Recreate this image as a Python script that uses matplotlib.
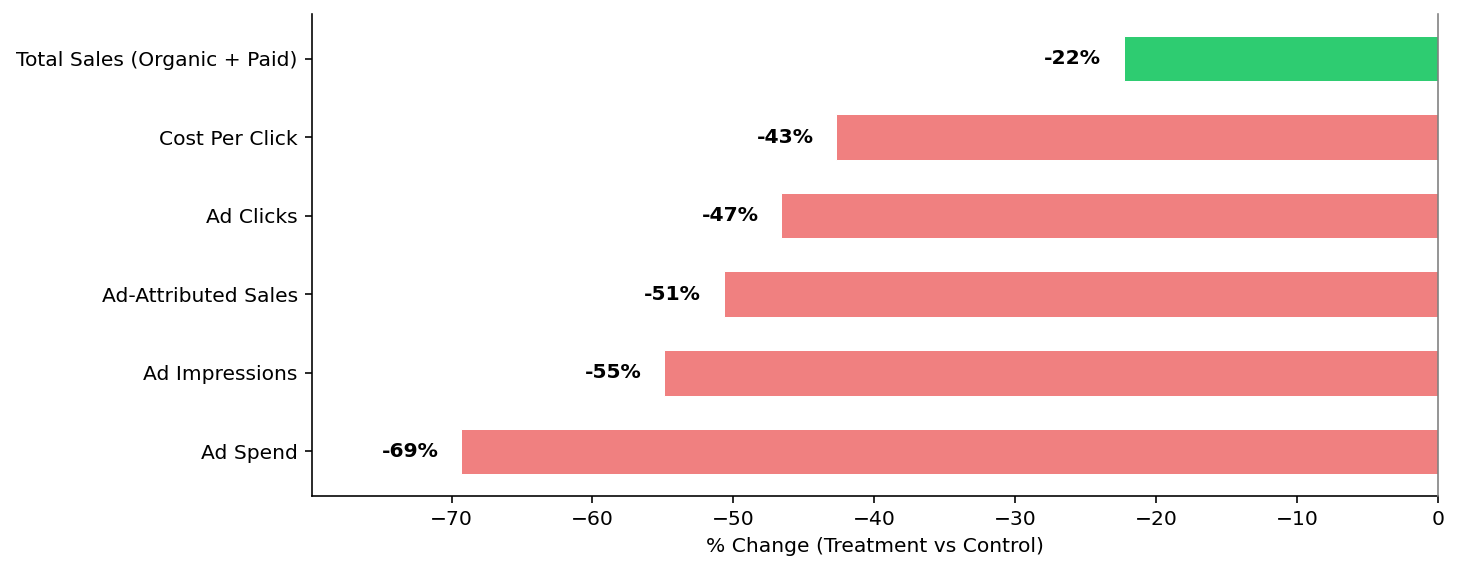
import matplotlib
matplotlib.use("Agg")
import matplotlib.pyplot as plt

# data
metrics = ['Ad Spend', 'Ad Impressions', 'Ad-Attributed Sales', 'Ad Clicks',
           'Cost Per Click', 'Total Sales (Organic + Paid)']
pct_change = [-69.3, -54.9, -50.7, -46.6, -42.7, -22.3]
bar_colors = ['#f08080', '#f08080', '#f08080', '#f08080', '#f08080', '#2ecc71']

DPI = 146
fig = plt.figure(figsize=(1460 / DPI, 575 / DPI), dpi=DPI)
ax = fig.add_axes([0.2137, 0.1374, 0.7712, 0.8383])

ax.barh(metrics, pct_change, color=bar_colors, height=0.58, edgecolor='white', linewidth=0.5)
ax.axvline(0, color='#808080', linewidth=0.8, zorder=5, clip_on=False)

for i, v in enumerate(pct_change):
    ax.text(v - 1.6, i, f'{v:.0f}%', ha='right', va='center', fontweight='bold')

ax.set_xlim(min(pct_change) * 1.153, 0)
ax.set_xlabel('% Change (Treatment vs Control)')
ax.spines['top'].set_visible(False)
ax.spines['right'].set_visible(False)

fig.savefig('out.png', dpi=DPI)
